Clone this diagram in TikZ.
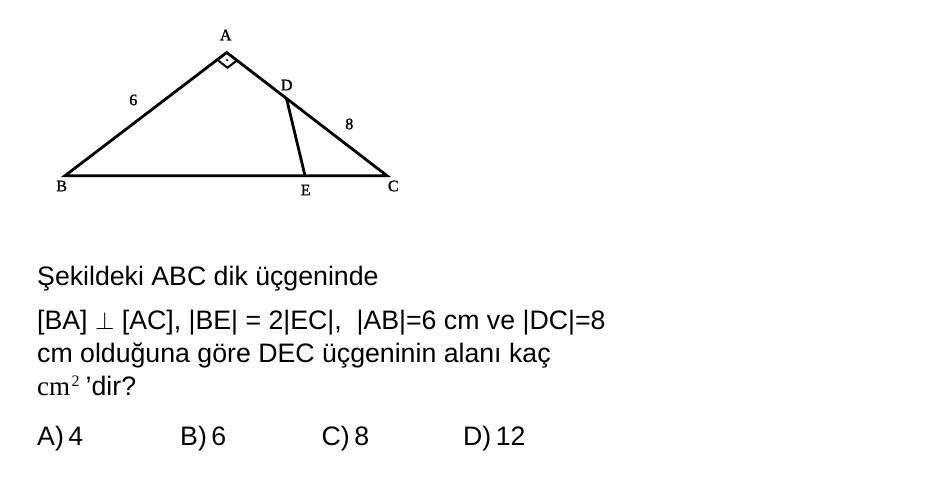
\documentclass[tikz,border=0pt]{standalone}
\usepackage{fontspec}
\setmainfont{Liberation Sans}
\newfontfamily\qfont{Liberation Sans}
\newfontfamily\seriffont{Liberation Serif}
\newfontfamily\lblfont[FakeBold=1.2]{Liberation Serif}
\usetikzlibrary{calc}
\begin{document}
\begin{tikzpicture}[x=1pt,y=-1pt,
  edge/.style={line width=2.8pt, line join=miter, line cap=butt},
  rmark/.style={line width=2pt},
  lbl/.style={inner sep=0pt, font=\lblfont\fontsize{16}{16}\selectfont},
  qline/.style={anchor=base west, inner sep=0pt, font=\qfont\fontsize{26.7}{26.7}\selectfont}]
\useasboundingbox[fill=white] (0,0) rectangle (948,480);
% vertices
\coordinate (A) at (226.7,52.5);
\coordinate (B) at (65,175.7);
\coordinate (C) at (387,175.7);
\coordinate (D) at ($(A)!0.373!(C)$);
\coordinate (E) at (305,175.7);
% right angle mark
\coordinate (RL) at ($(A)!12pt!(B)$);
\coordinate (RR) at ($(A)!13pt!(C)$);
\coordinate (RB) at ($(RL)+(RR)-(A)$);
\draw[edge] (B) -- (A) -- (C) -- cycle;
\draw[edge] (D) -- (E);
\draw[rmark] (RL) -- (RB) -- (RR);
\fill ($(A)!0.5!(RB)$) circle (1.2pt);
% labels
\node[lbl] (lA) at (225.7,35) {A};
\node[lbl] (lB) at (61.7,186) {B};
\node[lbl] (lC) at (393.3,186) {C};
\node[lbl] (lD) at (286.7,85) {D};
\node[lbl] (lE) at (305.7,190) {E};
\node[lbl] (l6) at (133.3,100) {6};
\node[lbl] (l8) at (349.3,124) {8};
% question
\node[qline] (q1) at (37,285.5) {Şekildeki ABC dik üçgeninde};
\node[qline] (q2) at (37,329) {[BA] $\perp$ [AC], |BE| = 2|EC|,\ \ |AB|=6 cm ve |DC|=8};
\node[qline] (q3) at (37,362) {cm olduğuna göre DEC üçgeninin alanı kaç};
\node[qline] (q4) at (37,395) {{\seriffont\fontsize{27}{27}\selectfont cm\hspace{1.5pt}\raisebox{9pt}{\fontsize{16}{16}\selectfont 2}}\hspace{6pt}’dir?};
% answers
\node[qline] (a1) at (37,445) {A)\,4};
\node[qline] (a2) at (180,445) {B)\,6};
\node[qline] (a3) at (321.5,445) {C)\,8};
\node[qline] (a4) at (463,445) {D)\,12};
\end{tikzpicture}
\end{document}
